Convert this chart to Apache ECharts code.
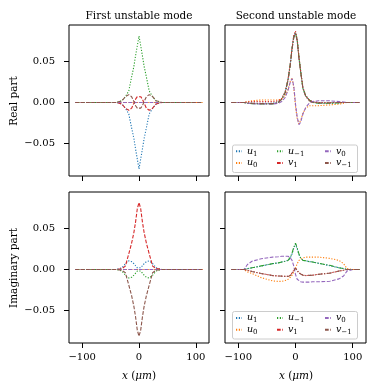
<!DOCTYPE html>
<html>
<head>
<meta charset="UTF-8">
<title>unstable modes</title>
<script src="https://cdn.jsdelivr.net/npm/echarts@6/dist/echarts.min.js"></script>
<style>
  html, body { margin: 0; padding: 0; background: #fff; }
  #main { width: 382px; height: 392px; }
</style>
</head>
<body>
<div id="main"></div>
<script>
// x positions (um)
var xs = [-112, -100, -90, -84, -76, -60, -40, -30, -24, -18, -13, -9, -6, -3, 0,
          3, 6, 9, 13, 18, 24, 30, 40, 60, 76, 84, 90, 100, 112];

// first unstable mode, real part
var m1re_u1  = [0, 0, 0, 0, 0, 0, 0, -0.002, -0.007, -0.014, -0.031, -0.044, -0.057, -0.069, -0.081,
                -0.069, -0.057, -0.044, -0.031, -0.014, -0.007, -0.002, 0, 0, 0, 0, 0, 0, 0];
var m1re_u0  = [0, 0, 0, 0, 0, 0, 0, 0, 0, 0, 0, 0, 0, 0, 0, 0, 0, 0, 0, 0, 0, 0, 0, 0, 0, 0, 0, 0, 0];
var m1re_um1 = [0, 0, 0, 0, 0, 0, 0, 0.002, 0.007, 0.014, 0.031, 0.044, 0.057, 0.069, 0.081,
                0.069, 0.057, 0.044, 0.031, 0.014, 0.007, 0.002, 0, 0, 0, 0, 0, 0, 0];
var m1re_v1  = [0, 0, 0, 0, 0, 0, 0, -0.002, -0.007, -0.0095, -0.007, -0.001, 0.004, 0.007, 0.008,
                0.007, 0.004, -0.001, -0.007, -0.0095, -0.007, -0.002, 0, 0, 0, 0, 0, 0, 0];
var m1re_v0  = [0, 0, 0, 0, 0, 0, 0, 0, 0, 0, 0, 0, 0, 0, 0, 0, 0, 0, 0, 0, 0, 0, 0, 0, 0, 0, 0, 0, 0];
var m1re_vm1 = [0, 0, 0, 0, 0, 0, 0, 0.002, 0.007, 0.0095, 0.007, 0.001, -0.004, -0.007, -0.008,
                -0.007, -0.004, 0.001, 0.007, 0.0095, 0.007, 0.002, 0, 0, 0, 0, 0, 0, 0];

// first unstable mode, imaginary part
var m1im_u1  = [0, 0, 0, 0, 0, 0, 0, 0.002, 0.007, 0.0105, 0.0095, 0.007, 0.0045, 0.002, 0,
                0.002, 0.0045, 0.007, 0.0095, 0.0105, 0.007, 0.002, 0, 0, 0, 0, 0, 0, 0];
var m1im_u0  = [0, 0, 0, 0, 0, 0, 0, 0, 0, 0, 0, 0, 0, 0, 0, 0, 0, 0, 0, 0, 0, 0, 0, 0, 0, 0, 0, 0, 0];
var m1im_um1 = [0, 0, 0, 0, 0, 0, 0, -0.002, -0.007, -0.0105, -0.0095, -0.007, -0.0045, -0.002, 0,
                -0.002, -0.0045, -0.007, -0.0095, -0.0105, -0.007, -0.002, 0, 0, 0, 0, 0, 0, 0];
var m1im_v1  = [0, 0, 0, 0, 0, 0, 0, 0.001, 0.004, 0.019, 0.032, 0.045, 0.058, 0.074, 0.0815,
                0.074, 0.058, 0.045, 0.032, 0.019, 0.004, 0.001, 0, 0, 0, 0, 0, 0, 0];
var m1im_v0  = [0, 0, 0, 0, 0, 0, 0, 0, 0, 0, 0, 0, 0, 0, 0, 0, 0, 0, 0, 0, 0, 0, 0, 0, 0, 0, 0, 0, 0];
var m1im_vm1 = [0, 0, 0, 0, 0, 0, 0, -0.001, -0.004, -0.019, -0.032, -0.045, -0.058, -0.074, -0.0815,
                -0.074, -0.058, -0.045, -0.032, -0.019, -0.004, -0.001, 0, 0, 0, 0, 0, 0, 0];

// second unstable mode, real part
var m2re_u1  = [0, 0, 0, -0.0005, -0.001, -0.001, -0.001, 0.001, 0.004, 0.012, 0.028, 0.047, 0.066, 0.080, 0.085,
                0.076, 0.055, 0.038, 0.017, 0.008, 0.003, 0.001, -0.001, -0.001, -0.0005, 0, 0, 0, 0];
var m2re_u0  = [0, 0, 0, 0.001, 0.002, 0.003, 0.003, 0.003, 0.004, 0.008, 0.016, 0.026, 0.030, 0.018, -0.005,
                -0.020, -0.026, -0.022, -0.013, -0.007, -0.004, -0.004, -0.004, -0.003, -0.002, -0.001, 0, 0, 0];
var m2re_um1 = [0, 0, 0, -0.001, -0.0015, -0.002, -0.002, 0, 0.004, 0.012, 0.028, 0.047, 0.066, 0.080, 0.085,
                0.076, 0.055, 0.038, 0.017, 0.008, 0.003, 0, -0.001, -0.001, -0.0005, 0, 0, 0, 0];
var m2re_v1  = [0, 0, 0, 0.0005, 0.001, 0.001, 0.001, 0.002, 0.005, 0.013, 0.029, 0.048, 0.067, 0.082, 0.087,
                0.077, 0.056, 0.039, 0.018, 0.008, 0.003, 0.001, 0, 0, 0, 0, 0, 0, 0];
var m2re_v0  = [0, 0, 0, -0.001, -0.0015, -0.002, -0.002, -0.001, 0.001, 0.006, 0.015, 0.025, 0.029, 0.020, -0.002,
                -0.018, -0.027, -0.024, -0.014, -0.006, -0.001, 0.001, 0.002, 0.002, 0.001, 0.0005, 0, 0, 0];
var m2re_vm1 = [0, 0, 0, -0.0005, -0.001, -0.0015, -0.0015, 0, 0.004, 0.012, 0.027, 0.046, 0.065, 0.079, 0.084,
                0.075, 0.054, 0.037, 0.017, 0.007, 0.002, 0, -0.0005, -0.0005, 0, 0, 0, 0, 0];

// second unstable mode, imaginary part
var m2im_u1  = [0, 0, 0, 0.001, 0.002, 0.004, 0.007, 0.008, 0.009, 0.010, 0.011, 0.014, 0.019, 0.026, 0.031,
                0.025, 0.018, 0.014, 0.011, 0.0105, 0.0095, 0.009, 0.0075, 0.0045, 0.002, 0.001, 0, 0, 0];
var m2im_u0  = [0, 0, 0, -0.003, -0.005, -0.010, -0.014, -0.0146, -0.0146, -0.0135, -0.012, -0.0095, -0.007, -0.003, 0.002,
                0.007, 0.011, 0.013, 0.014, 0.015, 0.015, 0.015, 0.015, 0.0135, 0.011, 0.007, 0.001, 0, 0];
var m2im_um1 = [0, 0, 0, 0.001, 0.002, 0.0043, 0.0071, 0.008, 0.009, 0.010, 0.011, 0.015, 0.020, 0.027, 0.032,
                0.026, 0.019, 0.014, 0.011, 0.0105, 0.0095, 0.009, 0.0075, 0.005, 0.002, 0.001, 0, 0, 0];
var m2im_v1  = [0, 0, 0, -0.001, -0.0025, -0.005, -0.0075, -0.008, -0.0082, -0.0085, -0.0085, -0.007, -0.004, -0.001, 0.002,
                -0.001, -0.004, -0.006, -0.007, -0.0075, -0.0072, -0.007, -0.006, -0.0045, -0.002, -0.001, 0, 0, 0];
var m2im_v0  = [0, 0, 0, 0.006, 0.010, 0.013, 0.015, 0.0155, 0.016, 0.016, 0.016, 0.014, 0.011, 0.004, -0.006,
                -0.012, -0.014, -0.015, -0.0155, -0.0155, -0.0155, -0.015, -0.015, -0.0145, -0.0115, -0.008, -0.002, 0, 0];
var m2im_vm1 = [0, 0, 0, -0.001, -0.0025, -0.005, -0.0075, -0.008, -0.0082, -0.0085, -0.0085, -0.0075, -0.0045, -0.0015, 0.0015,
                -0.0015, -0.0045, -0.0065, -0.0072, -0.0075, -0.0072, -0.007, -0.006, -0.0045, -0.002, -0.001, 0, 0, 0];

var names = ['u1', 'u0', 'u-1', 'v1', 'v0', 'v-1'];
var colors = ['#1f77b4', '#ff7f0e', '#2ca02c', '#d62728', '#9467bd', '#8c564b'];
var xTicks = [-100, 0, 100];
var yTicks = [-0.05, 0, 0.05];

var dot = [1.2, 1.6], dash = [3.7, 1.6], dashdot = [5, 1.6, 1.2, 1.6];

var panels = [
  { rows: [m1re_u1, m1re_u0, m1re_um1, m1re_v1, m1re_v0, m1re_vm1], dashes: [dot, dot, dot, dash, dash, dash] },
  { rows: [m2re_u1, m2re_u0, m2re_um1, m2re_v1, m2re_v0, m2re_vm1], dashes: [dot, dot, dashdot, dot, dash, dashdot] },
  { rows: [m1im_u1, m1im_u0, m1im_um1, m1im_v1, m1im_v0, m1im_vm1], dashes: [dot, dot, dot, dash, dash, dash] },
  { rows: [m2im_u1, m2im_u0, m2im_um1, m2im_v1, m2im_v0, m2im_vm1], dashes: [dot, dot, dashdot, dot, dash, dashdot] }
];

var FONT = 'DejaVu Serif';
var gridBox = [
  { left: 69, top: 25, width: 140, height: 151 },
  { left: 225, top: 25, width: 141, height: 151 },
  { left: 69, top: 192, width: 140, height: 151 },
  { left: 225, top: 192, width: 141, height: 151 }
];

function minus(s) { return String(s).replace('-', '\u2212'); }

var grids = [], xAxes = [], yAxes = [], series = [];
gridBox.forEach(function (g, i) {
  grids.push({ left: g.left, top: g.top, width: g.width, height: g.height,
    show: true, borderColor: '#000', borderWidth: 1, containLabel: false });
  xAxes.push({
    type: 'value', gridIndex: i, min: -123.2, max: 123.2, position: 'bottom',
    axisLine: { show: false, onZero: false },
    splitLine: { show: false },
    axisTick: { show: true, inside: false, customValues: xTicks, length: 5, lineStyle: { color: '#000', width: 1 } },
    axisLabel: { show: i >= 2, customValues: xTicks, margin: 9, color: '#000',
      fontFamily: FONT, fontSize: 10, formatter: function (v) { return minus(v); } }
  });
  yAxes.push({
    type: 'value', gridIndex: i, min: -0.0897, max: 0.0944, position: 'left',
    axisLine: { show: false, onZero: false },
    splitLine: { show: false },
    axisTick: { show: true, inside: false, customValues: yTicks, length: 5, lineStyle: { color: '#000', width: 1 } },
    axisLabel: { show: i % 2 === 0, customValues: yTicks, margin: 14, color: '#000',
      fontFamily: FONT, fontSize: 10, formatter: function (v) { return minus(v.toFixed(2)); } }
  });
});

panels.forEach(function (p, i) {
  p.rows.forEach(function (vals, k) {
    series.push({
      name: names[k], type: 'line', xAxisIndex: i, yAxisIndex: i,
      data: xs.map(function (x, j) { return [x, vals[j]]; }),
      symbol: 'none', silent: true, animation: false,
      lineStyle: { color: colors[k], width: 1.1, type: p.dashes[k] },
      itemStyle: { color: colors[k] }
    });
  });
});

function legendLabel(name) {
  var base = name.charAt(0);
  var sub = minus(name.slice(1));
  return '{i|' + base + '}{s|' + sub + '}';
}
var legendRich = {
  i: { fontFamily: FONT, fontStyle: 'italic', fontSize: 9.5, lineHeight: 12, verticalAlign: 'middle', color: '#000' },
  s: { fontFamily: FONT, fontSize: 7, lineHeight: 7, verticalAlign: 'bottom', color: '#000' }
};
// one legend per entry so the three columns line up like the original
var legendCols = [235, 276, 324];
function makeLegend(name, col, cy) {
  return {
    left: legendCols[col], top: cy - 6, orient: 'horizontal', itemWidth: 6, itemHeight: 4, itemGap: 0,
    padding: 0, selectedMode: false, z: 20,
    itemStyle: { opacity: 0, borderWidth: 0 },
    data: [name],
    formatter: legendLabel,
    textStyle: { rich: legendRich }
  };
}
var legendRows = [['u1', 'u-1', 'v0'], ['u0', 'v1', 'v-1']];
var legendCy = [[152.3, 164], [319, 330.7]];
var legends = [];
legendCy.forEach(function (rowsY) {
  legendRows.forEach(function (row, r) {
    row.forEach(function (n, c) { legends.push(makeLegend(n, c, rowsY[r])); });
  });
});

var textStyleBase = { fontFamily: FONT, fontSize: 10.5, fill: '#000' };
function label(x, y, text, rot) {
  return { type: 'text', x: x, y: y, rotation: rot || 0, z: 30,
    style: Object.assign({ text: text, align: 'center', verticalAlign: 'middle' }, textStyleBase) };
}
function xName(x) {
  return { type: 'text', x: x, y: 376, z: 30,
    style: { text: '{i|x} ({i|\u03bcm})', align: 'center', verticalAlign: 'middle',
      fontFamily: FONT, fontSize: 10.5, fill: '#000',
      rich: { i: { fontFamily: FONT, fontStyle: 'italic', fontSize: 10.5 } } } };
}
function legendBox(y) {
  return { type: 'rect', z: 10, shape: { x: 232.5, y: y, width: 125, height: 27.5, r: 2 },
    style: { fill: 'rgba(255,255,255,0.8)', stroke: '#cccccc', lineWidth: 1 } };
}

var option = {
  animation: false,
  backgroundColor: '#fff',
  grid: grids,
  xAxis: xAxes,
  yAxis: yAxes,
  legend: legends,
  series: series,
  graphic: [
    label(139, 16, 'First unstable mode'),
    label(296, 16, 'Second unstable mode'),
    label(14, 101, 'Real part', Math.PI / 2),
    label(14, 268, 'Imaginary part', Math.PI / 2),
    xName(139), xName(296),
    legendBox(145), legendBox(311.5)
  ]
};

var chart = echarts.init(document.getElementById('main'));
chart.setOption(option);
</script>
</body>
</html>
